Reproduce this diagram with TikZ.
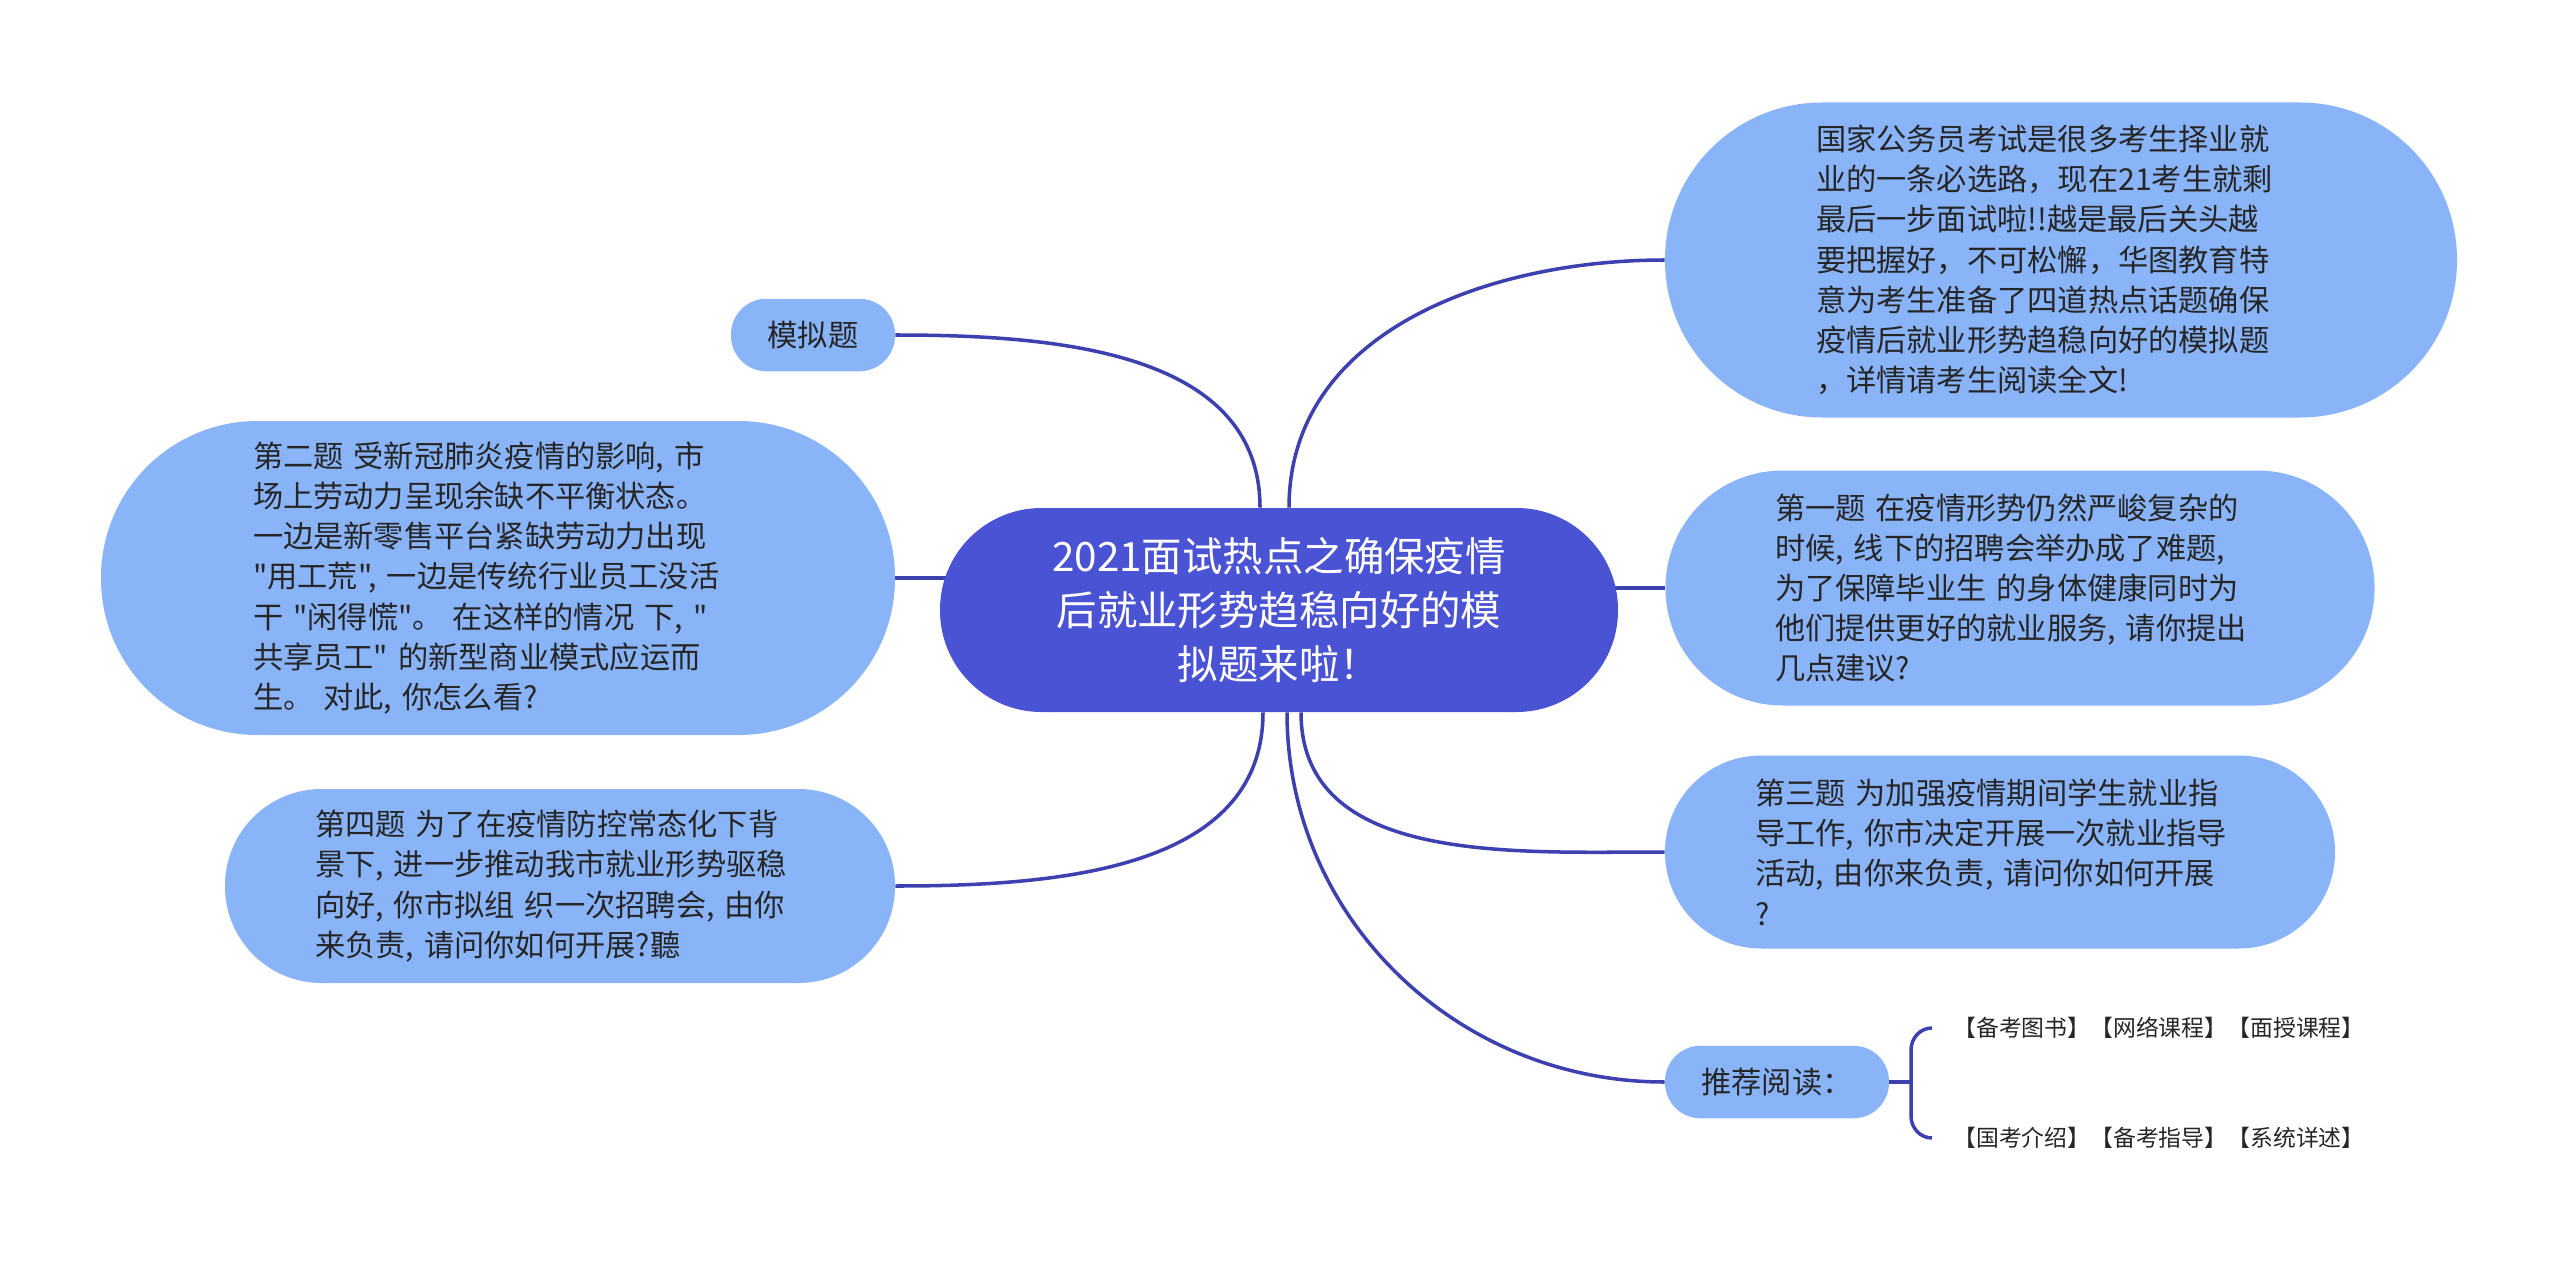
\documentclass[tikz,border=0pt]{standalone}
\usepackage{fontspec}
\newfontfamily\zhfont{Noto Sans CJK SC}
\usepackage{xcolor}
\usepackage{tikz}
\usetikzlibrary{positioning,backgrounds}
\definecolor{royal}{HTML}{4B53D5}
\definecolor{sky}{HTML}{8AB4F8}
\definecolor{wire}{HTML}{3D41B0}
\definecolor{ink}{HTML}{262626}

\begin{document}
\begin{tikzpicture}[
  topic/.style={fill=royal, text=white, text width=9.6cm, align=center,
    inner xsep=0pt, font=\zhfont\fontsize{23pt}{31pt}\selectfont},
  question/.style={fill=sky, text=ink, text width=9.8cm, align=left,
    inner xsep=0pt, font=\zhfont\fontsize{17.2pt}{22.9pt}\selectfont},
  leaf/.style={fill=sky, text=ink, minimum height=1.45cm, rounded corners=0.71cm,
    font=\zhfont\fontsize{17.2pt}{22.9pt}\selectfont},
  link/.style={draw=wire, line width=2pt},
  tag/.style={anchor=west, inner sep=0.1cm, text=ink,
    font=\zhfont\fontsize{13pt}{16pt}\selectfont}
]
\node[topic, minimum width=13.56cm, minimum height=4.08cm, rounded corners=2.03cm] (root) at (25.58,-12.20) {2021面试热点之确保疫情\\后就业形势趋稳向好的模\\拟题来啦！};
\node[leaf, minimum width=3.28cm] (mock) at (16.26,-6.70) {模拟题};
\node[question, minimum width=15.88cm, minimum height=6.28cm, rounded corners=3.13cm] (q2) at (9.96,-11.56) {第二题 受新冠肺炎疫情的影响, 市\\场上劳动力呈现余缺不平衡状态。\\一边是新零售平台紧缺劳动力出现\\"用工荒", 一边是传统行业员工没活\\干 "闲得慌"。 在这样的情况 下, "\\共享员工" 的新型商业模式应运而\\生。 对此, 你怎么看?};
\node[question, minimum width=13.40cm, minimum height=3.88cm, rounded corners=1.93cm] (q4) at (11.20,-17.72) {第四题 为了在疫情防控常态化下背\\景下, 进一步推动我市就业形势驱稳\\向好, 你市拟组 织一次招聘会, 由你\\来负责, 请问你如何开展?聽};
\node[question, minimum width=15.84cm, minimum height=6.30cm, rounded corners=3.14cm] (intro) at (41.22,-5.20) {国家公务员考试是很多考生择业就\\业的一条必选路，现在21考生就剩\\最后一步面试啦!!越是最后关头越\\要把握好，不可松懈，华图教育特\\意为考生准备了四道热点话题确保\\疫情后就业形势趋稳向好的模拟题\\，详情请考生阅读全文!};
\node[question, minimum width=14.18cm, minimum height=4.70cm, rounded corners=2.34cm] (q1) at (40.40,-11.76) {第一题 在疫情形势仍然严峻复杂的\\时候, 线下的招聘会举办成了难题,\\为了保障毕业生 的身体健康同时为\\他们提供更好的就业服务, 请你提出\\几点建议?};
\node[question, minimum width=13.40cm, minimum height=3.86cm, rounded corners=1.92cm] (q3) at (40.00,-17.04) {第三题 为加强疫情期间学生就业指\\导工作, 你市决定开展一次就业指导\\活动, 由你来负责, 请问你如何开展\\?};
\node[leaf, minimum width=4.48cm] (read) at (35.54,-21.64) {推荐阅读：};
\node[tag] (r1) at (38.96,-20.56) {【备考图书】【网络课程】【面授课程】};
\node[tag] (r2) at (38.96,-22.76) {【国考介绍】【备考指导】【系统详述】};

\coordinate (rootNL) at ([xshift=-0.38cm]root.north);
\coordinate (rootNR) at ([xshift=0.20cm]root.north);
\coordinate (rootSL) at ([xshift=-0.32cm]root.south);
\coordinate (rootSM) at ([xshift=0.16cm]root.south);
\coordinate (rootSR) at ([xshift=0.44cm]root.south);
\coordinate (bmid) at (38.22,-21.64);
\coordinate (btop) at (38.22,-21.00);
\coordinate (bbot) at (38.22,-22.32);
\coordinate (r1end) at ([xshift=-0.32cm]r1.west);
\coordinate (r2end) at ([xshift=-0.32cm]r2.west);

\begin{scope}[on background layer]
\fill[white] (0,0) rectangle (51.2,-25.26);
\draw[link] (mock.east) to[out=0,in=90] (rootNL);
\draw[link] (q2.east) -- (q2.east -| root.center);
\draw[link] (rootSL) to[out=-90,in=0] (q4.east);
\draw[link] (rootNR) to[out=90,in=180] (intro.west);
\draw[link] (q1.west -| root.center) -- (q1.west);
\draw[link] (rootSR) to[out=-90,in=180] (q3.west);
\draw[link] (rootSM) to[out=-90,in=180] (read.west);
\end{scope}
\draw[link] (read.east) -- (bmid);
\draw[link] (r1end) to[out=180,in=90] (btop) -- (bbot) to[out=-90,in=180] (r2end);
\end{tikzpicture}
\end{document}
